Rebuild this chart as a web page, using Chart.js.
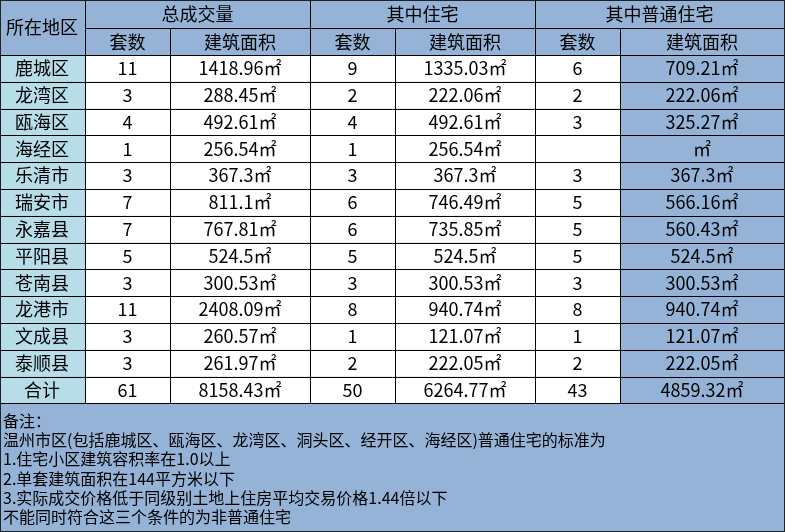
<!DOCTYPE html>
<html><head><meta charset="utf-8">
<script src="https://cdn.jsdelivr.net/npm/chart.js@4"></script>
<style>html,body{margin:0;padding:0;background:#fff}canvas{display:block}</style>
</head><body>
<canvas id="c" width="785" height="532"></canvas>
<script>
const districts = ['鹿城区','龙湾区','瓯海区','海经区','乐清市','瑞安市','永嘉县','平阳县','苍南县','龙港市','文成县','泰顺县','合计'];
const totalCount = [11,3,4,1,3,7,7,5,3,11,3,3,61];
const totalArea = ['1418.96','288.45','492.61','256.54','367.3','811.1','767.81','524.5','300.53','2408.09','260.57','261.97','8158.43'];
const resCount = [9,2,4,1,3,6,6,5,3,8,1,2,50];
const resArea = ['1335.03','222.06','492.61','256.54','367.3','746.49','735.85','524.5','300.53','940.74','121.07','222.05','6264.77'];
const ordCount = [6,2,3,'',3,5,5,5,3,8,1,2,43];
const ordArea = ['709.21','222.06','325.27','','367.3','566.16','560.43','524.5','300.53','940.74','121.07','222.05','4859.32'];
const groupHeaders = ['总成交量','其中住宅','其中普通住宅'];
const subHeaders = ['套数','建筑面积'];
const notes = ['备注：','温州市区(包括鹿城区、瓯海区、龙湾区、洞头区、经开区、海经区)普通住宅的标准为','1.住宅小区建筑容积率在1.0以上','2.单套建筑面积在144平方米以下','3.实际成交价格低于同级别土地上住房平均交易价格1.44倍以下','不能同时符合这三个条件的为非普通住宅'];

const colX = [0,85,170,310,395,535,620,784];
const rowY0 = 55, rowH = 26.8, headMid = 28;
const tableBottom = rowY0 + rowH*districts.length;
const BLUE = '#95b3d7', CYAN = '#b7dee8';
const F = '"Noto Sans CJK SC", "Noto Sans", sans-serif';

const tablePlugin = {
  id:'table',
  afterDraw(chart){
    const ctx = chart.ctx, xs = chart.scales.x, ys = chart.scales.y;
    const X = v => xs.getPixelForValue(v), Y = v => ys.getPixelForValue(v);
    const rect = (x0,y0,x1,y1,fill) => { ctx.fillStyle = fill; ctx.fillRect(X(x0),Y(y0),X(x1)-X(x0),Y(y1)-Y(y0)); };
    const text = (t,x,y,size,align) => { ctx.fillStyle='#000'; ctx.font = size+'px '+F; ctx.textAlign = align||'center'; ctx.textBaseline='middle'; ctx.fillText(t,X(x),Y(y)); };
    const line = (x0,y0,x1,y1) => { ctx.beginPath(); ctx.moveTo(Math.round(X(x0))+0.5,Math.round(Y(y0))+0.5); ctx.lineTo(Math.round(X(x1))+0.5,Math.round(Y(y1))+0.5); ctx.stroke(); };
    ctx.save();
    rect(0,0,785,532,BLUE);
    for (let i=0;i<districts.length;i++){
      const y0 = rowY0+rowH*i, y1 = y0+rowH;
      rect(0,y0,colX[1],y1,CYAN);
      rect(colX[1],y0,colX[6],y1,'#fff');
      const ym = (y0+y1)/2;
      text(districts[i],colX[0]+42,ym,18);
      const vals = [totalCount[i], totalArea[i]+'㎡', resCount[i], resArea[i]+'㎡', ordCount[i], ordArea[i]+'㎡'];
      vals.forEach((v,j)=>text(String(v),(colX[j+1]+colX[j+2])/2,ym,18));
    }
    text('所在地区',42,27,18);
    groupHeaders.forEach((g,k)=>text(g,(colX[1+2*k]+colX[3+2*k])/2,14,18));
    for (let j=0;j<6;j++) text(subHeaders[j%2],(colX[j+1]+colX[j+2])/2,42,18);
    notes.forEach((n,i)=>text(n,3,421+19.2*i,16,'left'));
    ctx.strokeStyle='#000'; ctx.lineWidth=1;
    line(colX[1],headMid,colX[7],headMid);
    line(0,rowY0,colX[7],rowY0);
    for (let i=1;i<=districts.length;i++) line(0,rowY0+rowH*i,colX[7],rowY0+rowH*i);
    [1,3,5].forEach(j=>line(colX[j],0,colX[j],tableBottom));
    [2,4,6].forEach(j=>line(colX[j],headMid,colX[j],tableBottom));
    ctx.strokeStyle='#222';
    ctx.strokeRect(0.5,0.5,784,531);
    ctx.restore();
  }
};

new Chart(document.getElementById('c'),{
  type:'scatter',
  data:{datasets:[{data:[]}]},
  options:{
    responsive:false, animation:false, devicePixelRatio:1,
    layout:{padding:0},
    plugins:{legend:{display:false},tooltip:{enabled:false}},
    scales:{
      x:{type:'linear',min:0,max:785,display:false},
      y:{type:'linear',min:0,max:532,reverse:true,display:false}
    }
  },
  plugins:[tablePlugin]
});
</script>
</body></html>
